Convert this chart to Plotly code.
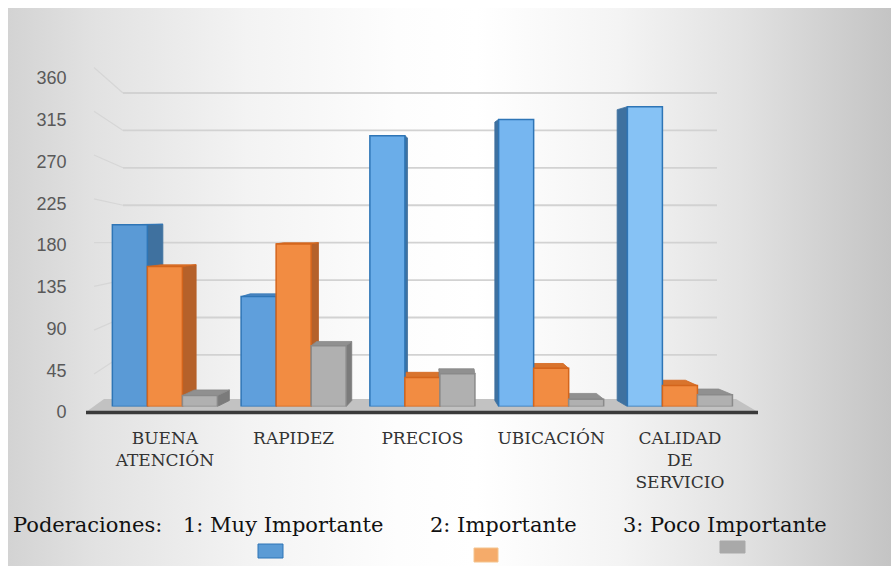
import base64
import plotly.graph_objects as go

# ---- data -------------------------------------------------------------
categories = ["BUENA<br>ATENCIÓN", "RAPIDEZ", "PRECIOS", "UBICACIÓN", "CALIDAD<br>DE<br>SERVICIO"]
muy_importante = [200, 121, 298, 316, 330]
importante = [154, 179, 32, 42, 23]
poco_importante = [12, 67, 36, 8, 13]
y_ticks = [0, 45, 90, 135, 180, 225, 270, 315, 360]
legend_labels = ["1: Muy Importante", "2: Importante", "3: Poco Importante"]
legend_title = "Poderaciones:"

# ---- geometry helpers (figure is 891 x 569 px) -------------------------
W, H = 891, 569


def fx(p):
    return p / W


def fy(p):
    return 1 - p / H


# bar plot area in pixels
PX_LEFT, PX_RIGHT = 100.5, 744.3
Y_MAX = 360
UY = 0.9085                              # px per value unit (column plane)
PY_BASE = 406.5
PY_TOP = PY_BASE - Y_MAX * UY
UX = (PX_RIGHT - PX_LEFT) / 5.0          # px per category
BARGAP = 0.184
BW = (1 - BARGAP) / 3

SERIF = "DejaVu Serif"

series = [
    dict(name=legend_labels[0], vals=muy_importante,
         front=["#5a9ad6", "#5f9fdc", "#6aade9", "#76b6f0", "#86c2f5"],
         edge="#2e75b6", side="#3f719f", top="#4c87c2"),
    dict(name=legend_labels[1], vals=importante,
         front=["#f28c42"] * 5, edge="#d4651c", side="#b5612a", top="#d9742d"),
    dict(name=legend_labels[2], vals=poco_importante,
         front=["#b0b0b0"] * 5, edge="#8a8a8a", side="#7b7b7b", top="#909090"),
]

fig = go.Figure()

# ---- back wall grid lines (subplot x/y) --------------------------------
BACK_ZERO, BACK_SCALE = 392.3, (392.3 - 93.0) / 360.0
GY_TOP_PX = 60.0
gy_lo = (BACK_ZERO - PY_BASE) / BACK_SCALE
gy_hi = (BACK_ZERO - GY_TOP_PX) / BACK_SCALE
WALL_X0, CORNER_X, WALL_X1 = 86.0, 123.0, 717.0
EYE_PX = 243.0
for v in y_ticks[1:]:
    yb = BACK_ZERO - v * BACK_SCALE
    y_left = yb + (yb - EYE_PX) * 0.17
    v_left = (BACK_ZERO - y_left) / BACK_SCALE
    fig.add_trace(go.Scatter(
        x=[WALL_X0 + 8, CORNER_X], y=[v_left, v], mode="lines",
        line=dict(color="#d6d6d6", width=1.2), hoverinfo="skip",
        xaxis="x", yaxis="y", showlegend=False))
    fig.add_trace(go.Scatter(
        x=[CORNER_X, WALL_X1], y=[v, v], mode="lines",
        line=dict(color="#d2d2d2", width=1.8), hoverinfo="skip",
        xaxis="x", yaxis="y", showlegend=False))

# ---- side and top faces of the columns (subplot x2/y2) -----------------
for j, s in enumerate(series):
    sx, sy, tx, ty = [], [], [], []
    for i, v in enumerate(s["vals"]):
        xc = i + (j - 1) * BW
        pxc = PX_LEFT + (xc + 0.5) * UX
        dx = -0.05 * (pxc - 440.0) / UX
        dyb = 6.0 / UY
        dyt = 6.0 * (1 - v / 220.0) / UY
        edge = xc + BW / 2 if dx > 0 else xc - BW / 2
        sx += [edge, edge, edge + dx, edge + dx, edge, None]
        sy += [0, v, v + dyt, dyb, 0, None]
        if dyt > 0:
            tx += [xc - BW / 2, xc + BW / 2, xc + BW / 2 + dx, xc - BW / 2 + dx, xc - BW / 2, None]
            ty += [v, v, v + dyt, v + dyt, v, None]
    fig.add_trace(go.Scatter(
        x=sx, y=sy, mode="lines", fill="toself", fillcolor=s["side"],
        line=dict(color=s["side"], width=0.8), hoverinfo="skip",
        xaxis="x2", yaxis="y2", showlegend=False))
    if tx:
        fig.add_trace(go.Scatter(
            x=tx, y=ty, mode="lines", fill="toself", fillcolor=s["top"],
            line=dict(color=s["edge"], width=0.8), hoverinfo="skip",
            xaxis="x2", yaxis="y2", showlegend=False))

# ---- front faces: the bars themselves (subplot x3/y3) ------------------
for s in series:
    fig.add_trace(go.Bar(
        x=list(range(len(categories))), y=s["vals"], name=s["name"],
        marker=dict(color=s["front"], line=dict(color=s["edge"], width=1.5)),
        xaxis="x3", yaxis="y3", showlegend=False))

# value axis labels sit on the front edge of the floor (axis y4)
fig.add_trace(go.Scatter(x=[None], y=[None], mode="markers", hoverinfo="skip",
                         xaxis="x3", yaxis="y4", showlegend=False))
LAB_ZERO, LAB_SCALE = 412.0, (412.0 - 78.0) / 360.0
LAB_BOTTOM_PX, LAB_TOP_PX = 425.0, 65.0

# ---- background gradient ------------------------------------------------
svg = (
    '<svg xmlns="http://www.w3.org/2000/svg" width="883" height="558">'
    '<defs><linearGradient id="g" x1="0" y1="0" x2="1" y2="0">'
    '<stop offset="0" stop-color="#d3d3d3"/>'
    '<stop offset="0.10" stop-color="#e2e2e2"/>'
    '<stop offset="0.27" stop-color="#f3f3f3"/>'
    '<stop offset="0.44" stop-color="#fdfdfd"/>'
    '<stop offset="0.53" stop-color="#ffffff"/>'
    '<stop offset="0.69" stop-color="#f4f4f4"/>'
    '<stop offset="0.83" stop-color="#e2e2e2"/>'
    '<stop offset="1" stop-color="#c4c4c4"/>'
    '</linearGradient></defs>'
    '<rect width="883" height="558" fill="url(#g)"/></svg>'
)
bg_src = "data:image/svg+xml;base64," + base64.b64encode(svg.encode()).decode()

shapes = [
    # floor of the chart
    dict(type="path", xref="paper", yref="paper", layer="below",
         path=f"M {fx(86)},{fy(412)} L {fx(758)},{fy(412)} L {fx(736)},{fy(399)} L {fx(104)},{fy(399)} Z",
         fillcolor="#c2c2c2", line=dict(width=0)),
    dict(type="line", xref="paper", yref="paper", layer="below",
         x0=fx(86), x1=fx(758), y0=fy(412.5), y1=fy(412.5),
         line=dict(color="#3a3a3a", width=3.5)),
]

# legend swatches
swatches = [
    (258, 544, 283, 558, "#5b9bd5", "#2e75b6"),
    (474, 548, 498, 562, "#f5ab6a", "#f4c48e"),
    (720, 541, 745, 553, "#a9a9a9", "#a9a9a9"),
]
for x0, y0, x1, y1, fc, lc in swatches:
    shapes.append(dict(type="rect", xref="paper", yref="paper",
                       x0=fx(x0), x1=fx(x1), y0=fy(y1), y1=fy(y0),
                       fillcolor=fc, line=dict(color=lc, width=1)))

annotations = []
for cx, lab in zip([87, 283, 503, 725], [legend_title] + legend_labels):
    annotations.append(dict(text=lab, x=fx(cx), y=fy(525), xref="paper", yref="paper",
                            showarrow=False, xanchor="center", yanchor="middle",
                            font=dict(family=SERIF, size=21, color="#111111")))

hidden = dict(visible=False, showgrid=False, zeroline=False, fixedrange=True, automargin=False)
x_dom = [fx(PX_LEFT), fx(PX_RIGHT)]
y_dom = [fy(PY_BASE), fy(PY_TOP)]

fig.update_layout(
    width=W, height=H, autosize=False,
    margin=dict(l=0, r=0, t=0, b=0, pad=0, autoexpand=False),
    paper_bgcolor="white",
    plot_bgcolor="rgba(0,0,0,0)",
    showlegend=False,
    barmode="group", bargap=BARGAP, bargroupgap=0,
    images=[dict(source=bg_src, xref="paper", yref="paper",
                 x=fx(8), y=fy(8), sizex=883 / W, sizey=558 / H,
                 sizing="stretch", layer="below", xanchor="left", yanchor="top")],
    shapes=shapes,
    annotations=annotations,
    xaxis=dict(hidden, domain=[fx(WALL_X0), fx(WALL_X1)], range=[WALL_X0, WALL_X1], anchor="y"),
    yaxis=dict(hidden, domain=[fy(PY_BASE), fy(GY_TOP_PX)], range=[gy_lo, gy_hi], anchor="x"),
    xaxis2=dict(hidden, domain=x_dom, range=[-0.5, 4.5], anchor="y2"),
    yaxis2=dict(hidden, domain=y_dom, range=[0, Y_MAX], anchor="x2"),
    xaxis3=dict(domain=x_dom, range=[-0.5, 4.5], anchor="y3", automargin=False,
                tickmode="array", tickvals=list(range(len(categories))), ticktext=categories,
                showgrid=False, zeroline=False, showline=False, ticks="",
                ticklabelstandoff=19,
                tickfont=dict(family=SERIF, size=17, color="#333333")),
    yaxis3=dict(hidden, domain=y_dom, range=[0, Y_MAX], anchor="x3"),
    yaxis4=dict(domain=[fy(LAB_BOTTOM_PX), fy(LAB_TOP_PX)],
                range=[(LAB_ZERO - LAB_BOTTOM_PX) / LAB_SCALE, (LAB_ZERO - LAB_TOP_PX) / LAB_SCALE],
                anchor="free", position=fx(PX_LEFT), automargin=False,
                tickmode="array", tickvals=y_ticks,
                showgrid=False, zeroline=False, showline=False, ticks="",
                ticklabelstandoff=34,
                tickfont=dict(family="Liberation Sans", size=18, color="#595959")),
)

fig.write_html("out.html")
